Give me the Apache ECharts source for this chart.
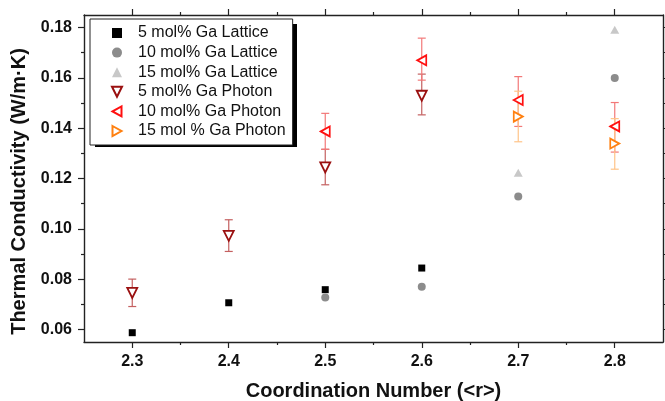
<!DOCTYPE html>
<html>
<head>
<meta charset="utf-8">
<script src="https://cdn.jsdelivr.net/npm/echarts@6/dist/echarts.min.js"></script>
<style>
html,body{margin:0;padding:0;background:#fff;}
#chart{width:665px;height:401px;}
</style>
</head>
<body>
<div id="chart"></div>
<script>
// ---- data ----
const xMajorTicks = [2.3, 2.4, 2.5, 2.6, 2.7, 2.8];
const xMinorTicks = [2.35, 2.45, 2.55, 2.65, 2.75];
const yMajorTicks = [0.06, 0.08, 0.10, 0.12, 0.14, 0.16, 0.18];
const yMinorTicks = [0.07, 0.09, 0.11, 0.13, 0.15, 0.17];

const seriesNames = ['5 mol% Ga Lattice', '10 mol% Ga Lattice', '15 mol% Ga Lattice',
                     '5 mol% Ga Photon', '10 mol% Ga Photon', '15 mol % Ga Photon'];

const lattice5X = [2.3, 2.4, 2.5, 2.6];
const lattice5Y = [0.0587, 0.0706, 0.0758, 0.0844];

const lattice10X = [2.5, 2.6, 2.7, 2.8];
const lattice10Y = [0.0727, 0.0770, 0.1128, 0.1600];

const lattice15X = [2.7, 2.8];
const lattice15Y = [0.1223, 0.1791];

const photon5X = [2.3, 2.4, 2.5, 2.6];
const photon5Y = [0.0745, 0.0972, 0.1244, 0.1529];
const photon5Low = [0.0691, 0.0910, 0.1175, 0.1453];
const photon5High = [0.0800, 0.1036, 0.1316, 0.1615];

const photon10X = [2.5, 2.6, 2.7, 2.8];
const photon10Y = [0.1387, 0.1670, 0.1512, 0.1407];
const photon10Low = [0.1316, 0.1591, 0.1407, 0.1305];
const photon10High = [0.1459, 0.1758, 0.1605, 0.1502];

const photon15X = [2.7, 2.8];
const photon15Y = [0.1446, 0.1339];
const photon15Low = [0.1346, 0.1237];
const photon15High = [0.1547, 0.1438];

// ---- helpers ----
const zip = (xs, ys) => xs.map((x, i) => [x, ys[i]]);
const zip3 = (xs, lo, hi) => xs.map((x, i) => [x, lo[i], hi[i]]);
const FONT = '"Liberation Sans", Arial, sans-serif';
const AX = '#222';

function errSeries(name, data, color) {
  return {
    type: 'custom',
    name: name + ' err',
    z: 1,
    silent: true,
    data: data,
    renderItem: function (params, api) {
      const x = api.value(0);
      const lo = api.coord([x, api.value(1)]);
      const hi = api.coord([x, api.value(2)]);
      const w = 4;
      const st = { stroke: color, lineWidth: 1.2 };
      return {
        type: 'group',
        children: [
          { type: 'line', shape: { x1: lo[0], y1: lo[1], x2: hi[0], y2: hi[1] }, style: st },
          { type: 'line', shape: { x1: lo[0] - w, y1: lo[1], x2: lo[0] + w, y2: lo[1] }, style: st },
          { type: 'line', shape: { x1: hi[0] - w, y1: hi[1], x2: hi[0] + w, y2: hi[1] }, style: st }
        ]
      };
    }
  };
}

const TRI_DOWN = 'path://M0,0 L10,0 L5,10 Z';
const TRI_LEFT = 'path://M0,5 L9,0 L9,10 Z';
const TRI_RIGHT = 'path://M0,0 L9,5 L0,10 Z';

function xAxisDef(pos, ticks, len, showLine, showLabel) {
  return {
    type: 'value', position: pos, min: 2.25, max: 2.85, offset: 0,
    axisLine: { show: showLine, onZero: false, lineStyle: { color: AX, width: 1.4 } },
    axisTick: { show: true, inside: false, length: len, customValues: ticks, lineStyle: { color: AX, width: 1.2 } },
    axisLabel: showLabel ? {
      show: true, customValues: ticks, margin: 12,
      formatter: v => v.toFixed(1),
      fontFamily: FONT, fontWeight: 'bold', fontSize: 16, color: '#111'
    } : { show: false },
    splitLine: { show: false }
  };
}
function yAxisDef(pos, ticks, len, showLine, showLabel) {
  return {
    type: 'value', position: pos, min: 0.055, max: 0.185, offset: 0,
    axisLine: { show: showLine, onZero: false, lineStyle: { color: AX, width: 1.4 } },
    axisTick: { show: true, inside: false, length: len, customValues: ticks, lineStyle: { color: AX, width: 1.2 } },
    axisLabel: showLabel ? {
      show: true, customValues: ticks, margin: 12,
      formatter: v => v.toFixed(2),
      fontFamily: FONT, fontWeight: 'bold', fontSize: 16, color: '#111'
    } : { show: false },
    splitLine: { show: false }
  };
}

const xMain = xAxisDef('bottom', xMajorTicks, 6, true, true);
xMain.name = 'Coordination Number (<r>)';
xMain.nameLocation = 'middle';
xMain.nameGap = 39;
xMain.nameTextStyle = { fontFamily: FONT, fontWeight: 'bold', fontSize: 20, color: '#111' };

const yMain = yAxisDef('left', yMajorTicks, 6, true, true);
yMain.name = 'Thermal Conductivity (W/m\u00b7K)';
yMain.nameLocation = 'middle';
yMain.nameGap = 53;
yMain.nameTextStyle = { fontFamily: FONT, fontWeight: 'bold', fontSize: 20, color: '#111', padding: [0, 26, 0, 0] };

const option = {
  animation: false,
  backgroundColor: '#fff',
  grid: { left: 84, right: 2, top: 15, bottom: 59, containLabel: false, outerBoundsMode: 'none' },
  graphic: [{
    type: 'rect', left: 95, top: 24, z: 1, silent: true,
    shape: { width: 202, height: 123 },
    style: { fill: '#000' }
  }],
  xAxis: [
    xMain,
    xAxisDef('bottom', xMinorTicks, 3, false, false),
    xAxisDef('top', xMajorTicks, 6, true, false),
    xAxisDef('top', xMinorTicks, 3, false, false)
  ],
  yAxis: [
    yMain,
    yAxisDef('left', yMinorTicks, 3, false, false),
    yAxisDef('right', yMajorTicks, 6, true, false),
    yAxisDef('right', yMinorTicks, 3, false, false)
  ],
  legend: {
    data: seriesNames,
    orient: 'vertical',
    left: 90, top: 19, z: 10,
    itemWidth: 10, itemHeight: 10, itemGap: 3.6,
    padding: [6, 7, 6, 21],
    backgroundColor: '#fff',
    borderColor: '#222', borderWidth: 1,
    textStyle: { fontFamily: FONT, fontSize: 16, lineHeight: 16, color: '#111', padding: [0, 0, 0, 11] }
  },
  series: [
    errSeries(seriesNames[3], zip3(photon5X, photon5Low, photon5High), '#c46060'),
    errSeries(seriesNames[4], zip3(photon10X, photon10Low, photon10High), '#f27878'),
    errSeries(seriesNames[5], zip3(photon15X, photon15Low, photon15High), '#ffc488'),
    {
      type: 'scatter', name: seriesNames[0], z: 3, data: zip(lattice5X, lattice5Y),
      symbol: 'rect', symbolSize: 7, itemStyle: { color: '#000', opacity: 1 }
    },
    {
      type: 'scatter', name: seriesNames[1], z: 3, data: zip(lattice10X, lattice10Y),
      symbol: 'circle', symbolSize: 8, itemStyle: { color: '#8c8c8c', opacity: 1 }
    },
    {
      type: 'scatter', name: seriesNames[2], z: 3, data: zip(lattice15X, lattice15Y),
      symbol: 'triangle', symbolSize: [9, 8], itemStyle: { color: '#c8c8c8', opacity: 1 }
    },
    {
      type: 'scatter', name: seriesNames[3], z: 4, data: zip(photon5X, photon5Y),
      symbol: TRI_DOWN, symbolSize: [10, 10], symbolKeepAspect: false,
      itemStyle: { color: '#fff', borderColor: '#9a1010', borderWidth: 1.8, opacity: 1 }
    },
    {
      type: 'scatter', name: seriesNames[4], z: 4, data: zip(photon10X, photon10Y),
      symbol: TRI_LEFT, symbolSize: [9, 10], symbolKeepAspect: false,
      itemStyle: { color: '#fff', borderColor: '#ff1010', borderWidth: 1.8, opacity: 1 }
    },
    {
      type: 'scatter', name: seriesNames[5], z: 4, data: zip(photon15X, photon15Y),
      symbol: TRI_RIGHT, symbolSize: [9, 10], symbolKeepAspect: false,
      itemStyle: { color: '#fff', borderColor: '#ff8010', borderWidth: 1.8, opacity: 1 }
    }
  ]
};

const chart = echarts.init(document.getElementById('chart'), null, { renderer: 'canvas' });
chart.setOption(option);
</script>
</body>
</html>
